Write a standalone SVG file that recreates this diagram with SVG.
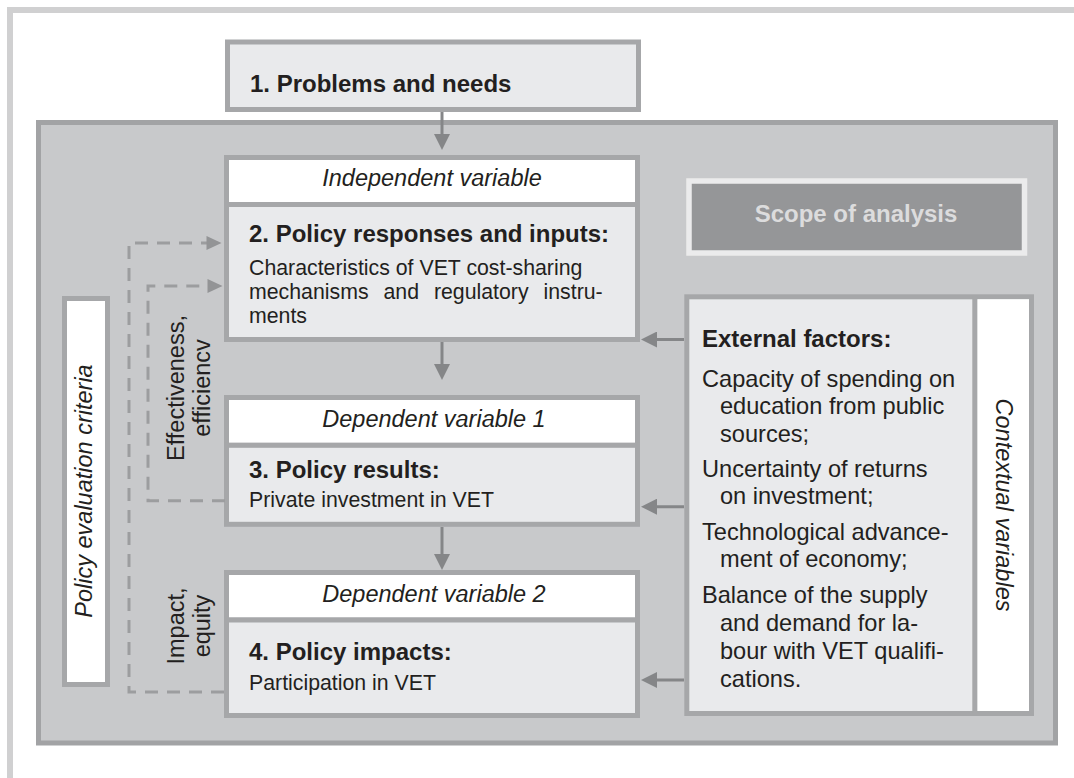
<svg xmlns="http://www.w3.org/2000/svg" width="1074" height="778" viewBox="0 0 1074 778">
<defs>
<style>
text{font-family:"Liberation Sans",Arial,Helvetica,sans-serif;fill:#231f20}
.box{stroke:#a6a7a9;stroke-width:5}
.fill{fill:#e9eaec}
.white{fill:#ffffff}
.hd{font-style:italic;font-size:23.5px;text-anchor:middle}
.ttl{font-weight:bold;font-size:24px}
.bd{font-size:21.3px}
.rb{font-size:23.6px}
.rot{font-size:23.5px;text-anchor:middle}
.arr{stroke:#858688;stroke-width:3;fill:none}
.dash{stroke:#9c9d9f;stroke-width:3;fill:none;stroke-dasharray:13 9}
</style>
<marker id="ah" viewBox="0 0 16 16" refX="8" refY="8" markerWidth="16" markerHeight="16" markerUnits="userSpaceOnUse" orient="auto">
<path d="M0,0 L16,8 L0,16 z" fill="#858688"/>
</marker>
<marker id="ahd" viewBox="0 0 16 16" refX="8" refY="8" markerWidth="16" markerHeight="15" markerUnits="userSpaceOnUse" orient="auto">
<path d="M0,0.5 L16,8 L0,15.5 z" fill="#939496"/>
</marker>
</defs>

<path d="M10,778 V10 H1074" fill="none" stroke="#d0d0d1" stroke-width="6"/>

<g id="problems">
<rect class="box fill" x="227.5" y="42" width="411" height="67.5"/>
<text class="ttl" x="250" y="92">1. Problems and needs</text>
</g>

<g id="scope-frame">
<rect x="38.5" y="122.5" width="1017" height="620.5" fill="#c8c9cb" stroke="#a2a3a5" stroke-width="5"/>
</g>

<g id="scope">
<rect x="689" y="181" width="335.5" height="72" fill="#959698" stroke="#ebebec" stroke-width="5.5"/>
<text x="856" y="222" text-anchor="middle" style="font-weight:bold;font-size:24px;fill:#dcdcdd">Scope of analysis</text>
</g>

<g id="policy-responses">
<rect class="box white" x="226.5" y="157.5" width="411" height="47"/>
<rect class="box fill" x="226.5" y="204.5" width="411" height="135"/>
<text class="hd" x="432" y="186">Independent variable</text>
<text class="ttl" x="249" y="242">2. Policy responses and inputs:</text>
<text class="bd" x="249" y="275">Characteristics of VET cost-sharing</text>
<text class="bd" x="249" y="299" word-spacing="9">mechanisms and regulatory instru-</text>
<text class="bd" x="249" y="323">ments</text>
</g>

<g id="policy-results">
<rect class="box white" x="226.5" y="397.5" width="411" height="47.8"/>
<rect class="box fill" x="226.5" y="445.3" width="411" height="79"/>
<text class="hd" x="434" y="427">Dependent variable 1</text>
<text class="ttl" x="249" y="478">3. Policy results:</text>
<text class="bd" x="249" y="507">Private investment in VET</text>
</g>

<g id="policy-impacts">
<rect class="box white" x="226.5" y="572.5" width="411" height="47.5"/>
<rect class="box fill" x="226.5" y="620" width="411" height="95.5"/>
<text class="hd" x="434" y="602">Dependent variable 2</text>
<text class="ttl" x="249" y="660">4. Policy impacts:</text>
<text class="bd" x="249" y="690">Participation in VET</text>
</g>

<g id="evaluation-criteria">
<rect class="box white" x="64.5" y="298.5" width="43" height="386"/>
<text x="92" y="491" transform="rotate(-90 92 491)" style="font-style:italic;font-size:23.5px;text-anchor:middle">Policy evaluation criteria</text>
</g>

<g id="effectiveness-label">
<text class="rot" transform="translate(184 388) rotate(-90)" x="0" y="0">Effectiveness,</text>
<text class="rot" transform="translate(210 388) rotate(-90)" x="0" y="0">efficiencv</text>
</g>

<g id="impact-label">
<text class="rot" transform="translate(184 626) rotate(-90)" x="0" y="0">Impact,</text>
<text class="rot" transform="translate(210 626) rotate(-90)" x="0" y="0">equity</text>
</g>

<g id="external-factors">
<rect class="box fill" x="686.8" y="296.8" width="344.7" height="416.7"/>
<rect x="977.3" y="299.3" width="51.7" height="411.7" fill="#ffffff"/>
<line x1="974.8" y1="296.8" x2="974.8" y2="713.5" stroke="#a6a7a9" stroke-width="5"/>
<text class="ttl" x="702" y="347">External factors:</text>
<text class="rb" x="702" y="387">Capacity of spending on</text>
<text class="rb" x="720" y="414">education from public</text>
<text class="rb" x="720" y="442">sources;</text>
<text class="rb" x="702" y="477">Uncertainty of returns</text>
<text class="rb" x="720" y="504">on investment;</text>
<text class="rb" x="702" y="540">Technological advance-</text>
<text class="rb" x="720" y="567">ment of economy;</text>
<text class="rb" x="702" y="603">Balance of the supply</text>
<text class="rb" x="720" y="631">and demand for la-</text>
<text class="rb" x="720" y="659">bour with VET qualifi-</text>
<text class="rb" x="720" y="687">cations.</text>
</g>

<g id="contextual-variables">
<text x="996" y="505" transform="rotate(90 996 505)" style="font-style:italic;font-size:23.5px;text-anchor:middle">Contextual variables</text>
</g>

<g id="connectors">
<line class="arr" x1="442" y1="112" x2="442" y2="142" marker-end="url(#ah)"/>
<line class="arr" x1="442" y1="342" x2="442" y2="372" marker-end="url(#ah)"/>
<line class="arr" x1="442" y1="527" x2="442" y2="562" marker-end="url(#ah)"/>
<line class="arr" x1="684" y1="339.5" x2="649" y2="339.5" marker-end="url(#ah)"/>
<line class="arr" x1="684" y1="506.7" x2="649" y2="506.7" marker-end="url(#ah)"/>
<line class="arr" x1="684" y1="680" x2="649" y2="680" marker-end="url(#ah)"/>
<path class="dash" d="M224,692 H129 V243 H214" marker-end="url(#ahd)"/>
<path class="dash" d="M225,500.7 H148 V286 H215" marker-end="url(#ahd)"/>
</g>
</svg>
